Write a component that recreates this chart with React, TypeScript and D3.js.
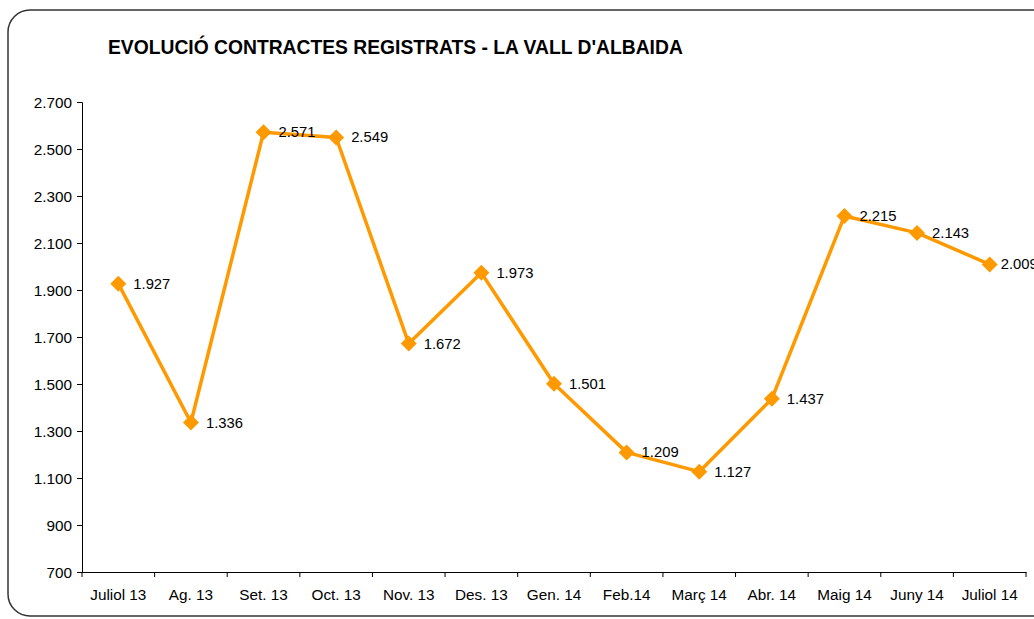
import React, { useEffect, useRef } from 'react';
import * as d3 from 'd3';

const months = [
  'Juliol 13', 'Ag. 13', 'Set. 13', 'Oct. 13', 'Nov. 13', 'Des. 13', 'Gen. 14',
  'Feb.14', 'Març 14', 'Abr. 14', 'Maig 14', 'Juny 14', 'Juliol 14',
];
const contracts = [1927, 1336, 2571, 2549, 1672, 1973, 1501, 1209, 1127, 1437, 2215, 2143, 2009];
const yTicks = [700, 900, 1100, 1300, 1500, 1700, 1900, 2100, 2300, 2500, 2700];

const title = "EVOLUCIÓ CONTRACTES REGISTRATS - LA VALL D'ALBAIDA";

const App = () => {
  const ref = useRef<SVGSVGElement>(null);

  useEffect(() => {
    const svg = d3.select(ref.current);
    svg.selectAll('*').remove();

    const width = 1034;
    const height = 619;
    const left = 82;
    const right = 1026;
    const top = 102;
    const bottom = 572;
    const font = '"Liberation Sans", Arial, sans-serif';
    const orange = '#FF9900';

    const fmt = d3.formatLocale({ decimal: ',', thousands: '.', grouping: [3], currency: ['', '€'] }).format(',d');

    const x = d3.scaleBand().domain(months).range([left, right]);
    const y = d3.scaleLinear().domain([700, 2700]).range([bottom, top]);

    svg.attr('width', width).attr('height', height);

    // frame
    svg.append('rect')
      .attr('x', 8).attr('y', 10)
      .attr('width', 1050).attr('height', 606)
      .attr('rx', 22).attr('ry', 22)
      .attr('fill', 'white')
      .attr('stroke', '#333')
      .attr('stroke-width', 1.5);

    svg.append('text')
      .attr('x', 108).attr('y', 54)
      .attr('font-family', font)
      .attr('font-weight', 'bold')
      .attr('font-size', 19.3)
      .attr('fill', '#000')
      .text(title);

    const yAxis = svg.append('g')
      .attr('transform', `translate(${left},0)`)
      .call(d3.axisLeft(y).tickValues(yTicks).tickSize(5).tickPadding(5).tickFormat((d) => fmt(d as number)));
    const xAxis = svg.append('g')
      .attr('transform', `translate(0,${bottom})`)
      .call(d3.axisBottom(x).tickSize(0).tickPadding(17));

    // x ticks at band edges
    xAxis.selectAll('.edge')
      .data(d3.range(months.length + 1))
      .enter()
      .append('line')
      .attr('x1', (i) => left + i * x.bandwidth())
      .attr('x2', (i) => left + i * x.bandwidth())
      .attr('y1', 0).attr('y2', 5)
      .attr('stroke', '#000');

    [yAxis, xAxis].forEach((g) => {
      g.select('.domain').attr('stroke', '#000').attr('stroke-width', 1);
      g.selectAll('.tick line').attr('stroke', '#000');
      g.selectAll('text').attr('font-family', font).attr('font-size', 15.3).attr('fill', '#000');
    });
    yAxis.selectAll('.tick text').attr('dy', '0.35em');

    const cx = (i: number) => (x(months[i]) as number) + x.bandwidth() / 2;

    const line = d3.line<number>()
      .x((_, i) => cx(i))
      .y((d) => y(d));

    svg.append('path')
      .datum(contracts)
      .attr('d', line)
      .attr('fill', 'none')
      .attr('stroke', orange)
      .attr('stroke-width', 3.5)
      .attr('stroke-linejoin', 'round');

    const s = 8;
    svg.selectAll('.marker')
      .data(contracts)
      .enter()
      .append('path')
      .attr('d', (d, i) => {
        const px = cx(i);
        const py = y(d);
        return `M${px},${py - s}L${px + s},${py}L${px},${py + s}L${px - s},${py}Z`;
      })
      .attr('fill', orange);

    // last label sits closer to its marker, as in the original (still clipped by the edge)
    svg.selectAll('.lbl')
      .data(contracts)
      .enter()
      .append('text')
      .attr('x', (_, i) => cx(i) + (i === contracts.length - 1 ? 11 : 15))
      .attr('y', (d) => y(d) + 5)
      .attr('font-family', font)
      .attr('font-size', 14.8)
      .attr('fill', '#000')
      .text((d) => fmt(d));
  }, []);

  return <svg ref={ref} style={{ position: 'absolute', left: 0, top: 0 }}></svg>;
};

export default App;
